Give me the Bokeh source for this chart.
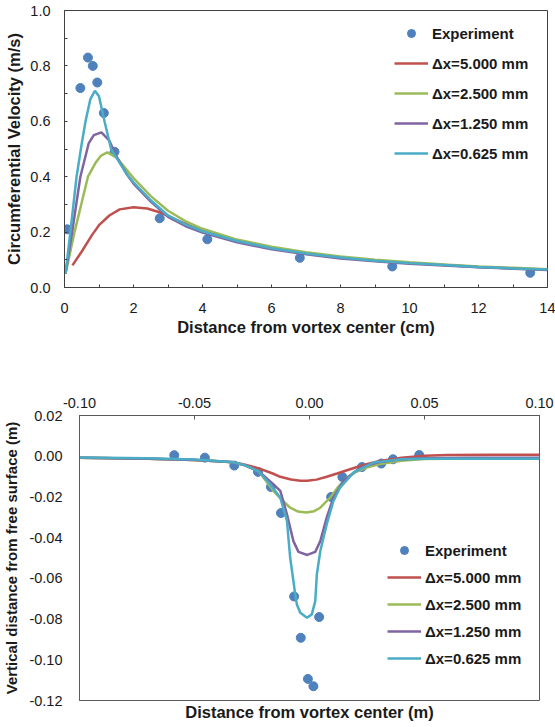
from bokeh.plotting import figure
from bokeh.models import (Legend, LegendItem, LinearAxis, FixedTicker,
                          NumeralTickFormatter, Range1d)
from bokeh.embed import file_html
from bokeh.resources import INLINE

# ---------------- Data: top chart (circumferential velocity) ----------------
top_x_ticks = [0, 2, 4, 6, 8, 10, 12, 14]
top_x_minor = [1, 3, 5, 7, 9, 11, 13]
top_y_ticks = [0.0, 0.2, 0.4, 0.6, 0.8, 1.0]
top_y_minor = [0.1, 0.3, 0.5, 0.7, 0.9]

exp_r = [0.08, 0.46, 0.68, 0.82, 0.95, 1.14, 1.45, 2.76, 4.14, 6.82, 9.50, 13.5]
exp_v = [0.21, 0.72, 0.83, 0.80, 0.74, 0.63, 0.49, 0.25, 0.174, 0.107, 0.076, 0.053]

red_r = [0.23, 0.5, 0.8, 1.0, 1.3, 1.6, 2.0, 2.4, 2.8, 3.2, 3.6, 4.0, 5.0, 6.0, 7.0, 8.0, 9.0, 10.0, 11.0, 12.0, 13.0, 14.0]
red_v = [0.08, 0.13, 0.19, 0.225, 0.26, 0.282, 0.29, 0.285, 0.27, 0.247, 0.225, 0.204, 0.168, 0.142, 0.123, 0.108, 0.097, 0.088, 0.081, 0.074, 0.069, 0.065]

green_r = [0.03, 0.29, 0.68, 0.9, 1.05, 1.24, 1.5, 1.7, 2.0, 2.5, 3.0, 3.5, 4.0, 5.0, 6.0, 7.0, 8.0, 9.0, 10.0, 11.0, 12.0, 13.0, 14.0]
green_v = [0.05, 0.20, 0.40, 0.45, 0.475, 0.488, 0.47, 0.44, 0.395, 0.33, 0.277, 0.24, 0.212, 0.173, 0.147, 0.127, 0.112, 0.100, 0.091, 0.083, 0.076, 0.071, 0.066]

purple_r = [0.03, 0.22, 0.46, 0.7, 0.85, 1.07, 1.3, 1.5, 1.8, 2.0, 2.5, 3.0, 3.5, 4.0, 5.0, 6.0, 7.0, 8.0, 9.0, 10.0, 11.0, 12.0, 13.0, 14.0]
purple_v = [0.05, 0.20, 0.40, 0.52, 0.55, 0.56, 0.53, 0.475, 0.41, 0.375, 0.31, 0.255, 0.222, 0.198, 0.163, 0.138, 0.12, 0.105, 0.095, 0.086, 0.079, 0.073, 0.068, 0.063]

cyan_r = [0.03, 0.17, 0.35, 0.5, 0.61, 0.75, 0.88, 1.0, 1.16, 1.35, 1.5, 1.8, 2.0, 2.5, 3.0, 3.5, 4.0, 5.0, 6.0, 7.0, 8.0, 9.0, 10.0, 11.0, 12.0, 13.0, 14.0]
cyan_v = [0.05, 0.20, 0.40, 0.52, 0.60, 0.68, 0.71, 0.69, 0.60, 0.50, 0.47, 0.41, 0.38, 0.315, 0.26, 0.228, 0.203, 0.168, 0.142, 0.123, 0.108, 0.097, 0.088, 0.081, 0.074, 0.069, 0.065]

# ---------------- Data: bottom chart (free surface depression) ----------------
bot_x_ticks = [-0.10, -0.05, 0.00, 0.05, 0.10]
bot_y_ticks = [0.02, 0.00, -0.02, -0.04, -0.06, -0.08, -0.10, -0.12]

exp2_x = [-0.0588, -0.0455, -0.0327, -0.0224, -0.0168, -0.0124, -0.0067, -0.0038, -0.0007, 0.0017, 0.0042, 0.0094, 0.0143, 0.0228, 0.0312, 0.0363, 0.0477]
exp2_z = [0.0005, -0.0007, -0.0046, -0.0077, -0.0151, -0.0279, -0.0689, -0.0892, -0.1094, -0.1130, -0.0790, -0.0200, -0.0102, -0.0053, -0.0036, -0.0015, 0.0006]

red2_x = [-0.10, -0.07, -0.05, -0.04, -0.033, -0.028, -0.022, -0.016, -0.0127, -0.008, -0.004, -0.001, 0.003, 0.0075, 0.012, 0.0163, 0.0234, 0.03, 0.04, 0.05, 0.06, 0.08, 0.10]
red2_z = [-0.0008, -0.0012, -0.0018, -0.0025, -0.003, -0.0042, -0.006, -0.0085, -0.0101, -0.0114, -0.012, -0.0121, -0.0115, -0.0101, -0.0085, -0.0069, -0.0043, -0.0025, -0.0008, 0.0002, 0.0006, 0.0007, 0.0007]

green2_x = [-0.10, -0.07, -0.05, -0.04, -0.033, -0.028, -0.022, -0.0157, -0.012, -0.0084, -0.005, -0.0014, 0.002, 0.0047, 0.009, 0.0125, 0.0163, 0.02, 0.025, 0.03, 0.04, 0.05, 0.07, 0.10]
green2_z = [-0.0008, -0.0012, -0.0018, -0.0025, -0.003, -0.0045, -0.0075, -0.017, -0.0215, -0.0253, -0.0272, -0.0277, -0.027, -0.0253, -0.0204, -0.015, -0.0105, -0.0078, -0.0056, -0.004, -0.0022, -0.0014, -0.0011, -0.001]

purple2_x = [-0.10, -0.07, -0.05, -0.04, -0.033, -0.028, -0.022, -0.016, -0.0127, -0.0098, -0.007, -0.0048, -0.001, 0.0025, 0.0047, 0.0075, 0.0104, 0.0148, 0.022, 0.03, 0.04, 0.05, 0.07, 0.10]
purple2_z = [-0.0008, -0.0012, -0.0018, -0.0025, -0.003, -0.0045, -0.0075, -0.0135, -0.017, -0.0285, -0.0417, -0.047, -0.0485, -0.047, -0.0417, -0.030, -0.0204, -0.0121, -0.0056, -0.003, -0.0015, -0.001, -0.0008, -0.0008]

cyan2_x = [-0.10, -0.07, -0.05, -0.04, -0.033, -0.028, -0.022, -0.0171, -0.0127, -0.0098, -0.0084, -0.007, -0.0062, -0.0055, -0.004, -0.0011, 0.001, 0.0025, 0.0032, 0.0047, 0.0075, 0.0104, 0.0133, 0.0191, 0.0278, 0.04, 0.05, 0.07, 0.10]
cyan2_z = [-0.0006, -0.001, -0.0016, -0.0024, -0.003, -0.0045, -0.0075, -0.0138, -0.0204, -0.0318, -0.0499, -0.0613, -0.0679, -0.0728, -0.0769, -0.0794, -0.0777, -0.0712, -0.058, -0.0466, -0.0334, -0.022, -0.0154, -0.0081, -0.0031, -0.0015, -0.0012, -0.0012, -0.0012]

labels = ["Experiment", "\u0394x=5.000 mm", "\u0394x=2.500 mm", "\u0394x=1.250 mm", "\u0394x=0.625 mm"]

# ---------------- Styles ----------------
FONT = "Liberation Sans"
C_EXP = "#4F81BD"
C_RED = "#C0504D"
C_GREEN = "#9BBB59"
C_PURPLE = "#8064A2"
C_CYAN = "#4BACC6"
AX = "#404040"
AX2 = "#5a5a5a"
TXT = "#1a1a1a"
LW = 2.5


def style_axis(ax, label_size, color=AX):
    ax.axis_line_color = color
    ax.major_tick_line_color = color
    ax.minor_tick_line_color = color
    ax.major_label_text_font = FONT
    ax.major_label_text_font_size = "14.5px"
    ax.major_label_text_color = TXT
    ax.axis_label_text_font = FONT
    ax.axis_label_text_font_style = "bold"
    ax.axis_label_text_font_size = label_size
    ax.axis_label_text_color = TXT


# ---------------- Top figure ----------------
p1 = figure(width=555, height=340, x_range=Range1d(0, 14), y_range=Range1d(0, 1),
            output_backend="svg", toolbar_location=None,
            min_border_left=64, min_border_right=8, min_border_top=10, min_border_bottom=53)
p1.grid.visible = False
p1.outline_line_color = AX

xa = p1.xaxis[0]
xa.ticker = FixedTicker(ticks=top_x_ticks, minor_ticks=top_x_minor)
xa.formatter = NumeralTickFormatter(format="0")
xa.axis_label = "Distance from vortex center (cm)"
style_axis(xa, "16.5px")
xa.major_tick_out = 0
xa.major_tick_in = 3
xa.minor_tick_out = 0
xa.minor_tick_in = 3
xa.major_label_standoff = 15
xa.axis_label_standoff = 2

ya = p1.yaxis[0]
ya.ticker = FixedTicker(ticks=top_y_ticks, minor_ticks=top_y_minor)
ya.formatter = NumeralTickFormatter(format="0.0")
ya.axis_label = "Circumferential Velocity (m/s)"
style_axis(ya, "16.5px")
ya.major_tick_out = 0
ya.major_tick_in = 3
ya.minor_tick_out = 0
ya.minor_tick_in = 3
ya.major_label_standoff = 14
ya.axis_label_standoff = 4

e1 = p1.scatter(exp_r, exp_v, size=9, fill_color=C_EXP, line_color=C_EXP)
l1 = p1.line(red_r, red_v, line_color=C_RED, line_width=LW)
l2 = p1.line(green_r, green_v, line_color=C_GREEN, line_width=LW)
l3 = p1.line(purple_r, purple_v, line_color=C_PURPLE, line_width=LW)
l4 = p1.line(cyan_r, cyan_v, line_color=C_CYAN, line_width=LW)

leg1 = Legend(items=[LegendItem(label=lab, renderers=[r]) for lab, r in zip(labels, [e1, l1, l2, l3, l4])],
              location=(330, 124), orientation="vertical",
              glyph_width=34, glyph_height=20, label_height=20, label_standoff=4,
              spacing=10, padding=0, margin=0,
              border_line_alpha=0, background_fill_alpha=0,
              label_text_font=FONT, label_text_font_style="bold",
              label_text_font_size="15px", label_text_color=TXT)
p1.add_layout(leg1)

# ---------------- Bottom figure ----------------
p2 = figure(width=555, height=387, x_range=Range1d(-0.10, 0.10), y_range=Range1d(-0.12, 0.02),
            output_backend="svg", toolbar_location=None, x_axis_location="above",
            min_border_left=79, min_border_right=16, min_border_top=75, min_border_bottom=27)
p2.grid.visible = False
p2.outline_line_color = AX2

xa2 = p2.xaxis[0]
xa2.ticker = FixedTicker(ticks=bot_x_ticks)
xa2.formatter = NumeralTickFormatter(format="0.00")
style_axis(xa2, "16.5px", AX2)
xa2.major_tick_out = 0
xa2.major_tick_in = 4
xa2.minor_tick_out = 0
xa2.minor_tick_in = 0
xa2.major_label_standoff = 8

ya2 = p2.yaxis[0]
ya2.ticker = FixedTicker(ticks=bot_y_ticks)
ya2.formatter = NumeralTickFormatter(format="0.00")
ya2.axis_label = "Vertical distance from free surface (m)"
style_axis(ya2, "15px", AX2)
ya2.major_tick_out = 0
ya2.major_tick_in = 0
ya2.minor_tick_out = 0
ya2.minor_tick_in = 0
ya2.major_label_standoff = 17
ya2.axis_label_standoff = 6

bx = LinearAxis(ticker=FixedTicker(ticks=[]), axis_label="Distance from vortex center (m)",
                axis_line_alpha=0, major_tick_out=0, minor_tick_out=0,
                major_label_standoff=0, axis_label_standoff=2)
style_axis(bx, "16.5px", AX2)
bx.axis_line_alpha = 0
p2.add_layout(bx, "below")

e2 = p2.scatter(exp2_x, exp2_z, size=9, fill_color=C_EXP, line_color=C_EXP)
m1 = p2.line(red2_x, red2_z, line_color=C_RED, line_width=LW)
m2 = p2.line(green2_x, green2_z, line_color=C_GREEN, line_width=LW)
m3 = p2.line(purple2_x, purple2_z, line_color=C_PURPLE, line_width=LW)
m4 = p2.line(cyan2_x, cyan2_z, line_color=C_CYAN, line_width=LW)

leg2 = Legend(items=[LegendItem(label=lab, renderers=[r]) for lab, r in zip(labels, [e2, m1, m2, m3, m4])],
              location=(308, 32), orientation="vertical",
              glyph_width=34, glyph_height=20, label_height=20, label_standoff=4,
              spacing=7, padding=0, margin=0,
              border_line_alpha=0, background_fill_alpha=0,
              label_text_font=FONT, label_text_font_style="bold",
              label_text_font_size="15px", label_text_color=TXT)
p2.add_layout(leg2)

open("out.html", "w").write(file_html([p1, p2], INLINE))
